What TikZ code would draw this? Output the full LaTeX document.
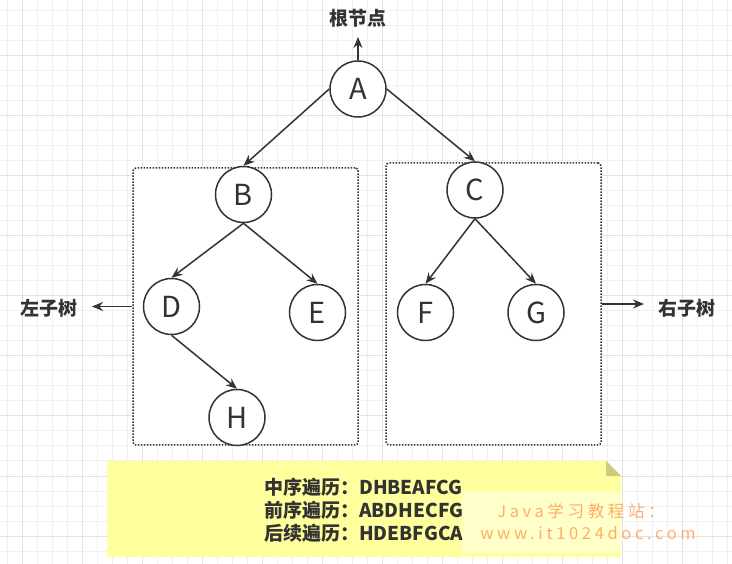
\documentclass[tikz,border=0pt]{standalone}
\usepackage{fontspec}
\setmainfont{Noto Sans CJK SC}
\newfontfamily\wmfont[LetterSpace=22]{Noto Sans CJK SC}
\usetikzlibrary{arrows.meta}
\definecolor{ink}{HTML}{333333}
\definecolor{gridminor}{HTML}{F0F0F0}
\definecolor{gridmajor}{HTML}{E2E2E2}
\definecolor{notefill}{HTML}{FFFF9E}
\definecolor{notefold}{HTML}{CCCC7E}
\definecolor{wmorange}{HTML}{FF8C40}
\begin{document}
\begin{tikzpicture}[x=1pt,y=-1pt,
  treenode/.style={circle,draw=ink,line width=1.5pt,fill=white,minimum size=56pt,
    inner sep=0pt,text=ink,font=\fontsize{29}{29}\selectfont},
  edge/.style={draw=ink,line width=1.5pt,-{Stealth[length=11pt,width=9pt]}},
  subtree/.style={draw=ink,fill=white,line width=1.5pt,dash pattern=on 1.5pt off 1.5pt,
    rounded corners=3pt,inner sep=0pt},
  tagtext/.style={text=ink,font=\fontsize{19}{19}\selectfont\bfseries},
  notetext/.style={text=ink,align=left,inner sep=0pt,font=\fontsize{19}{23}\selectfont\bfseries},
  wmtext/.style={text=wmorange,text opacity=.7,inner sep=0pt,font=\wmfont\fontsize{16.5}{16.5}\selectfont}]
  \useasboundingbox (0,0) rectangle (732,564);
  \fill[white] (0,0) rectangle (732,564);
  % grid
  \foreach \gx in {7,22,...,727} \draw[gridminor,line width=1pt] (\gx,0) -- (\gx,564);
  \foreach \gy in {11,26,...,556} \draw[gridminor,line width=1pt] (0,\gy) -- (732,\gy);
  \foreach \gx in {22,82,...,682} \draw[gridmajor,line width=1pt] (\gx,0) -- (\gx,564);
  \foreach \gy in {56,116,...,536} \draw[gridmajor,line width=1pt] (0,\gy) -- (732,\gy);

  % subtrees
  \node[subtree,minimum width=225pt,minimum height=277pt] (lbox) at (245.5,306.5) {};
  \node[subtree,minimum width=215pt,minimum height=282pt] (rbox) at (493.5,304) {};

  % tree
  \node[treenode] (A) at (358,89) {A};
  \node[treenode] (B) at (243.5,194.5) {B};
  \node[treenode] (C) at (475,190) {C};
  \node[treenode] (D) at (171.5,306.5) {D};
  \node[treenode] (E) at (317.5,312.5) {E};
  \node[treenode] (F) at (425.5,312.5) {F};
  \node[treenode] (G) at (536,312.5) {G};
  \node[treenode] (H) at (237,417.5) {H};
  \draw[edge] (A.west) -- (B.north);
  \draw[edge] (A.east) -- (C.north);
  \draw[edge] (B.south) -- (D.north);
  \draw[edge] (B.south) -- (E.north);
  \draw[edge] (D.south) -- (H.north);
  \draw[edge] (C.south) -- (F.north);
  \draw[edge] (C.south) -- (G.north);

  % labels
  \node[tagtext] (rootlbl) at (358,18) {根节点};
  \coordinate (roottip) at (358,37);
  \draw[edge] (A.north) -- (roottip);
  \node[tagtext] (leftlbl) at (49,308) {左子树};
  \coordinate (lefttip) at (92,306.5);
  \draw[edge] (lbox.west) -- (lefttip);
  \node[tagtext] (rightlbl) at (687,308) {右子树};
  \coordinate (righttip) at (644,304);
  \draw[edge] (rbox.east) -- (righttip);

  % note
  \fill[notefill] (107,461) -- (606,461) -- (621,476) -- (621,557) -- (107,557) -- cycle;
  \fill[notefold] (606,461) -- (606,476) -- (621,476) -- cycle;
  \node[notetext,anchor=west] (orders) at (264,510)
    {中序遍历：DHBEAFCG\\前序遍历：ABDHECFG\\后续遍历：HDEBFGCA};
  \fill[white,opacity=.45] (462,492) rectangle (621,553);
  \node[wmtext] (wmname) at (581,511) {Java学习教程站：};
  \node[wmtext] (wmsite) at (588,533) {www.it1024doc.com};
\end{tikzpicture}
\end{document}
